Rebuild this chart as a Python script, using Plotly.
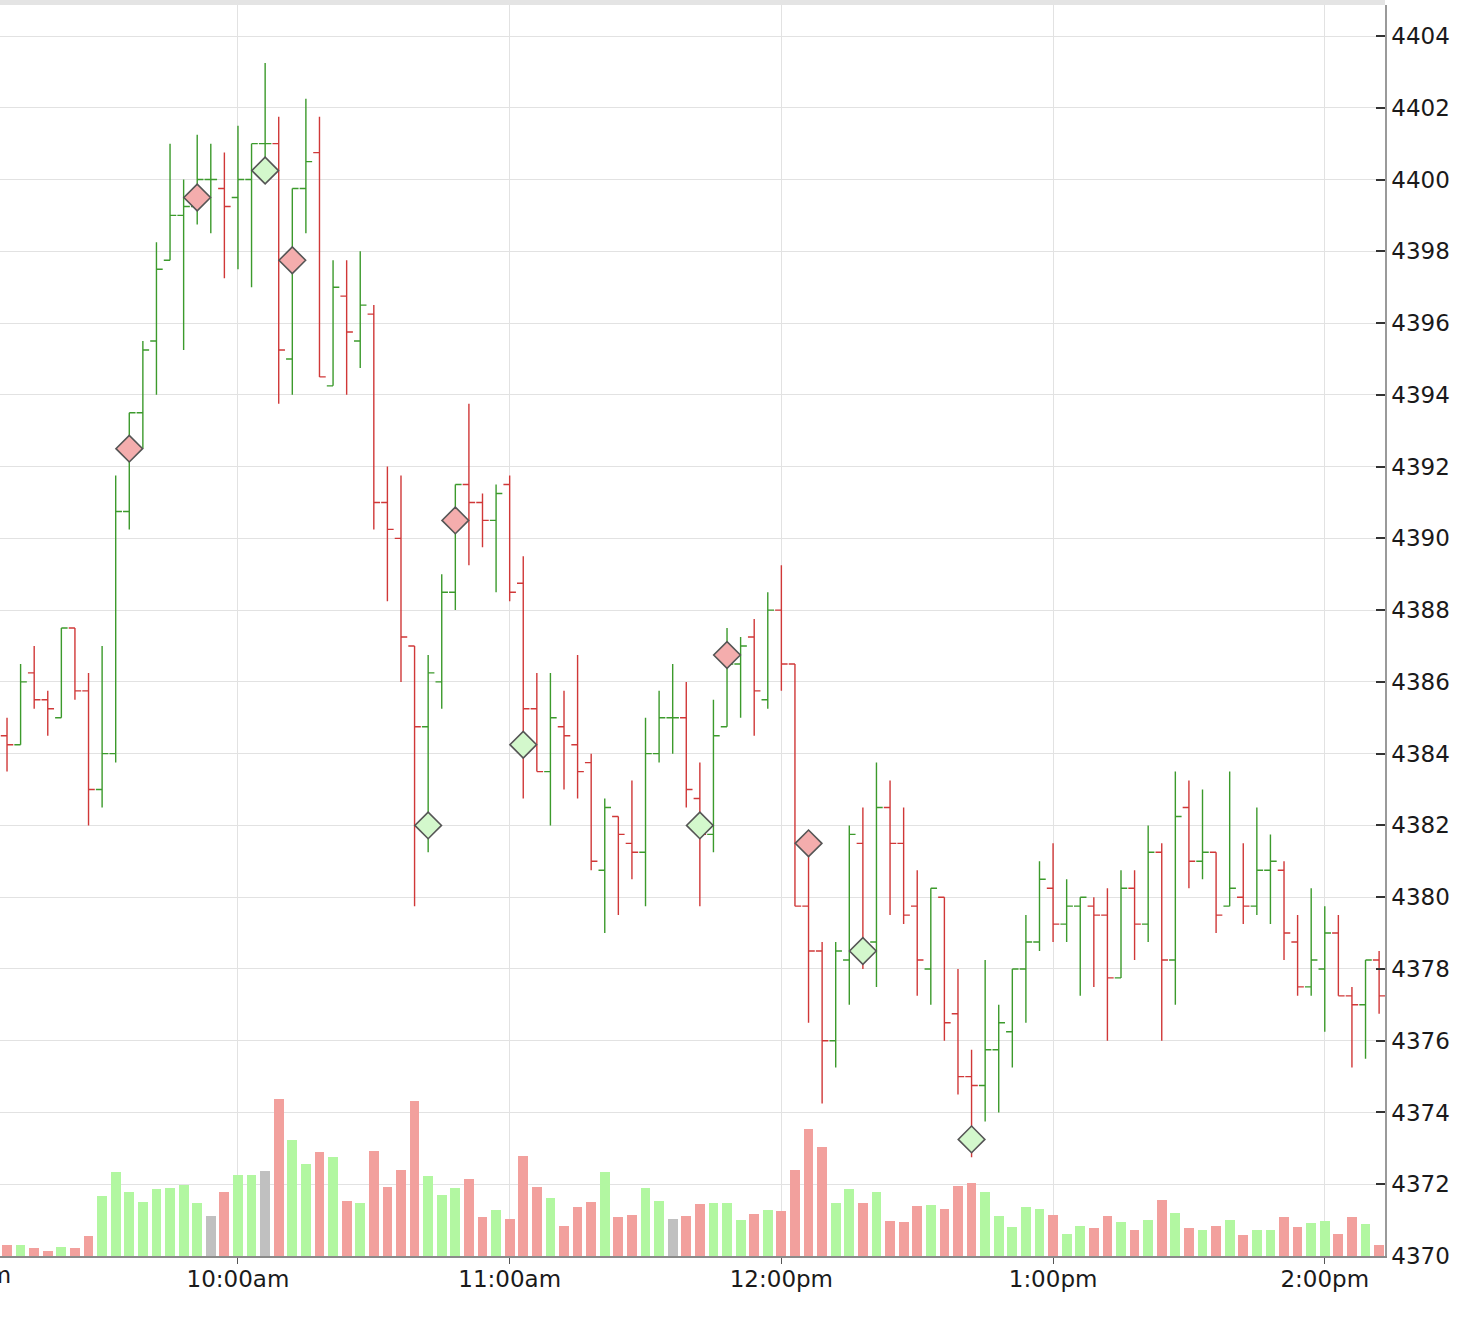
import pandas as pd
import plotly.graph_objects as go

# ---------------- data (3-minute bars) ----------------
bar_times = pd.date_range("2023-09-01 09:09", periods=102, freq="3min")

opens = [4384.5, 4384.25, 4386.25, 4385.5, 4385, 4387.5, 4385.75, 4383, 4384, 4390.75,
         4393.5, 4395.5, 4397.75, 4399, 4399.25, 4400, 4399.75, 4399.5, 4400, 4401,
         4401, 4395, 4399.75, 4400.75, 4394.25, 4396.75, 4395.5, 4396.25, 4391, 4390,
         4387, 4384.75, 4386, 4388.5, 4391.5, 4391, 4390.5, 4391.5, 4388.75, 4385.25,
         4383.5, 4384.75, 4384.25, 4383.75, 4380.75, 4382.25, 4381.5, 4381.25, 4384, 4385,
         4385, 4382.75, 4381.75, 4384.75, 4386.5, 4387.25, 4385.5, 4388, 4386.5, 4379.75,
         4378.5, 4376, 4378.25, 4381.5, 4378.75, 4382.5, 4381.5, 4379.75, 4378, 4380,
         4376.75, 4375, 4374.75, 4375.75, 4376.25, 4378, 4378.75, 4380.25, 4379.25, 4379.75,
         4379.75, 4379.5, 4377.75, 4380.25, 4379.25, 4381.25, 4378.25, 4382.5, 4381, 4381.25,
         4379.75, 4380, 4379.75, 4380.75, 4380.75, 4378.75, 4377.5, 4378, 4379, 4377.25,
         4377, 4378.25]
highs = [4385, 4386.5, 4387, 4385.75, 4387.5, 4387.5, 4386.25, 4387, 4391.75, 4393.5,
         4395.5, 4398.25, 4401, 4400, 4401.25, 4401, 4400.75, 4401.5, 4401, 4403.25,
         4401.75, 4399.75, 4402.25, 4401.75, 4397.75, 4397.75, 4398, 4396.5, 4392, 4391.75,
         4387, 4386.75, 4389, 4391.5, 4393.75, 4391.25, 4391.5, 4391.75, 4389.5, 4386.25,
         4386.25, 4385.75, 4386.75, 4384, 4382.75, 4382.25, 4383.25, 4385, 4385.75, 4386.5,
         4386, 4383.75, 4385.5, 4387.5, 4387.25, 4387.75, 4388.5, 4389.25, 4386.5, 4381.5,
         4378.75, 4378.75, 4382, 4382.5, 4383.75, 4383.25, 4382.5, 4380.75, 4380.25, 4380,
         4378, 4375.75, 4378.25, 4377, 4378, 4379.5, 4381, 4381.5, 4380.5, 4380,
         4380, 4380.25, 4380.75, 4380.75, 4382, 4381.5, 4383.5, 4383.25, 4383, 4381.25,
         4383.5, 4381.5, 4382.5, 4381.75, 4381, 4379.5, 4380.25, 4379.75, 4379.5, 4377.5,
         4378.25, 4378.5]
lows = [4383.5, 4384.25, 4385.25, 4384.5, 4385, 4385.5, 4382, 4382.5, 4383.75, 4390.25,
        4392.5, 4394, 4397.75, 4395.25, 4398.75, 4398.5, 4397.25, 4397.5, 4397, 4400.25,
        4393.75, 4394, 4398.5, 4394.5, 4394.25, 4394, 4394.75, 4390.25, 4388.25, 4386,
        4379.75, 4381.25, 4385.25, 4388, 4389.25, 4389.75, 4388.5, 4388.25, 4382.75, 4383.5,
        4382, 4383, 4382.75, 4380.75, 4379, 4379.5, 4380.5, 4379.75, 4383.75, 4384,
        4382.5, 4379.75, 4381.25, 4384.75, 4385, 4384.5, 4385.25, 4385.75, 4379.75, 4376.5,
        4374.25, 4375.25, 4377, 4378, 4377.5, 4379.5, 4379.25, 4377.25, 4377, 4376,
        4374.5, 4372.75, 4373.75, 4374, 4375.25, 4376.5, 4378.5, 4378.75, 4378.75, 4377.25,
        4377.5, 4376, 4377.75, 4378.25, 4378.75, 4376, 4377, 4380.25, 4380.5, 4379,
        4379.75, 4379.25, 4379.5, 4379.25, 4378.25, 4377.25, 4377.25, 4376.25, 4377.25, 4375.25,
        4375.5, 4376.75]
closes = [4384.25, 4386, 4385.5, 4385.25, 4387.5, 4385.75, 4383, 4384, 4390.75, 4393.5,
          4395.25, 4397.5, 4399, 4399.25, 4400, 4400, 4399.25, 4400, 4401, 4401,
          4395.25, 4399.75, 4400.5, 4394.5, 4397, 4395.75, 4396.5, 4391, 4390.25, 4387.25,
          4384.75, 4386.25, 4388.5, 4391.5, 4391, 4390.5, 4391.25, 4388.5, 4385.25, 4383.5,
          4385, 4384.5, 4383.5, 4381, 4382.5, 4381.75, 4381.25, 4384, 4385, 4385,
          4383, 4381.75, 4384.5, 4386.5, 4387, 4385.75, 4388, 4386.5, 4379.75, 4378.5,
          4376, 4378.5, 4381.75, 4378.5, 4382.5, 4381.5, 4379.5, 4378.25, 4380.25, 4376.5,
          4375, 4374.75, 4375.75, 4376.5, 4378, 4378.75, 4380.5, 4379.25, 4379.75, 4380,
          4379.5, 4377.75, 4380.25, 4379.25, 4381.25, 4378.25, 4382.25, 4381, 4381.25, 4379.5,
          4380.25, 4379.75, 4380.75, 4381, 4379, 4377.5, 4378.25, 4379, 4377.25, 4377,
          4378.25, 4377.25]
volume = [1070, 1070, 800, 470, 930, 800, 2000, 5970, 8400, 6430,
          5370, 6670, 6770, 7070, 5270, 3970, 6430, 8130, 8130, 8530,
          15670, 11570, 9230, 10400, 9930, 5470, 5270, 10530, 6870, 8630,
          15530, 8030, 6070, 6770, 7700, 3870, 4570, 3730, 10030, 6870,
          5830, 3030, 4900, 5370, 8400, 3870, 4100, 6770, 5470, 3730,
          3970, 5250, 5330, 5330, 3600, 4200, 4630, 4530, 8630, 12730,
          10870, 5330, 6670, 5330, 6430, 3470, 3370, 5030, 5130, 4670,
          7000, 7330, 6430, 3970, 2900, 4870, 4670, 4070, 2200, 3030,
          2800, 3970, 3370, 2570, 3630, 5630, 4300, 2800, 2570, 3030,
          3630, 2100, 2570, 2570, 3870, 2930, 3270, 3500, 2200, 3870,
          3170, 1070]

signal_idx = [9, 14, 19, 21, 31, 33, 38, 51, 53, 59, 63, 71]
signal_price = [4392.5, 4399.5, 4400.25, 4397.75, 4382.0, 4390.5, 4384.25,
                4382.0, 4386.75, 4381.5, 4378.5, 4373.25]
signal_side = ["sell", "sell", "buy", "sell", "buy", "sell", "buy",
               "buy", "sell", "sell", "buy", "buy"]

x_tick_vals = pd.date_range("2023-09-01 10:00", periods=5, freq="60min")
x_tick_text = ["10:00am", "11:00am", "12:00pm", "1:00pm", "2:00pm"]
hidden_tick_time = pd.Timestamp("2023-09-01 09:00")
hidden_tick_text = "9:00am"

# ---------------- style ----------------
GREEN = "#3c9a2c"
RED = "#d03838"
VOL_UP = "#b2f7a1"
VOL_DOWN = "#f2a09d"
VOL_FLAT = "#c0c0c0"
GRID = "#e2e2e2"
FONT = dict(family="DejaVu Sans", size=23, color="#1a1a1a")

x_start = pd.Timestamp("2023-09-01 09:07:27")
x_end = pd.Timestamp("2023-09-01 14:13:18")

# volume colour: compare with previous close
vol_colors = []
for i, c in enumerate(closes):
    ref = closes[i - 1] if i > 0 else opens[i]
    if c > ref:
        vol_colors.append(VOL_UP)
    elif c < ref:
        vol_colors.append(VOL_DOWN)
    else:
        vol_colors.append(VOL_FLAT)

fig = go.Figure()

fig.add_trace(go.Bar(
    x=bar_times, y=volume, marker=dict(color=vol_colors, line=dict(width=0)),
    width=3 * 60 * 1000 * 0.72, yaxis="y", hoverinfo="skip", showlegend=False,
))

fig.add_trace(go.Ohlc(
    x=bar_times, open=opens, high=highs, low=lows, close=closes,
    yaxis="y2", tickwidth=0.46,
    increasing=dict(line=dict(color=GREEN, width=1.4)),
    decreasing=dict(line=dict(color=RED, width=1.4)),
    hoverinfo="skip", showlegend=False,
))

for side, fill in (("sell", "#f4adad"), ("buy", "#d3f8cc")):
    xs = [bar_times[i] for i, s in zip(signal_idx, signal_side) if s == side]
    ys = [p for p, s in zip(signal_price, signal_side) if s == side]
    fig.add_trace(go.Scatter(
        x=xs, y=ys, mode="markers", yaxis="y2",
        marker=dict(symbol="diamond", size=20.5, color=fill,
                    line=dict(color="#555555", width=1.6)),
        hoverinfo="skip", showlegend=False,
    ))

span = (x_end - x_start).total_seconds()
hidden_frac = (hidden_tick_time - x_start).total_seconds() / span

fig.update_layout(
    width=1482, height=1320,
    margin=dict(l=0, r=97, t=5, b=64),
    paper_bgcolor="white", plot_bgcolor="white",
    showlegend=False, bargap=0,
    font=FONT,
    xaxis=dict(
        type="date", range=[x_start, x_end],
        tickvals=list(x_tick_vals), ticktext=x_tick_text,
        showgrid=True, gridcolor=GRID, gridwidth=1.3,
        showline=True, linecolor="#8a8a8a", linewidth=1.5,
        ticks="outside", ticklen=6, tickwidth=1.3, tickcolor="#555",
        ticklabelstandoff=-4,
        tickfont=FONT, rangeslider=dict(visible=False), zeroline=False,
    ),
    yaxis=dict(range=[0, 125100], visible=False, showgrid=False, zeroline=False),
    yaxis2=dict(
        overlaying="y", side="right", anchor="x",
        range=[4370, 4404.864], tick0=4370, dtick=2,
        showgrid=True, gridcolor=GRID, gridwidth=1.3,
        showline=True, linecolor="#9a9a9a", linewidth=1.5,
        ticks="inside", ticklen=9, tickwidth=1.5, tickcolor="#333",
        tickfont=FONT, zeroline=False,
    ),
    shapes=[dict(type="rect", xref="paper", yref="paper", x0=0, x1=1,
                 y0=1, y1=1 + 6 / 1251, fillcolor="#e4e4e4", line=dict(width=0))],
    annotations=[dict(xref="paper", yref="paper", x=hidden_frac, y=0,
                      xanchor="center", yanchor="top", yshift=-4, xshift=1,
                      text=hidden_tick_text, showarrow=False, font=FONT)],
)

fig.write_html("out.html", config={"displayModeBar": False},
               post_script="document.body.style.margin='0';")
